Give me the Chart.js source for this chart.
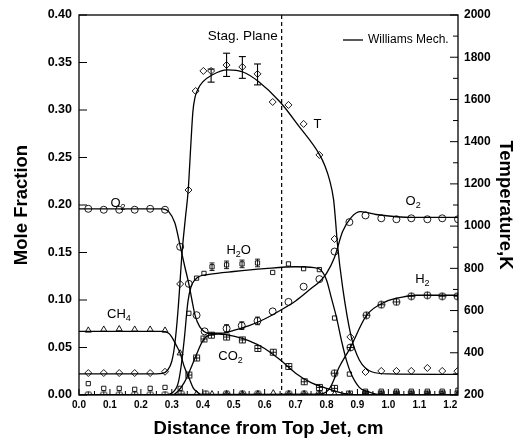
<!DOCTYPE html>
<html>
<head>
<meta charset="utf-8">
<script src="https://cdn.jsdelivr.net/npm/chart.js@4.4.1/dist/chart.umd.min.js"></script>
<style>
  body { margin: 0; background: #fff; }
  #wrap { width: 521px; height: 442px; }
</style>
</head>
<body>
<div id="wrap"><canvas id="chart" width="521" height="442"></canvas></div>
<script>
// ---- data ----
// x ticks (cm) and axis ranges
const xTicks = [0.0, 0.1, 0.2, 0.3, 0.4, 0.5, 0.6, 0.7, 0.8, 0.9, 1.0, 1.1, 1.2];
const moleTicks = [0.00, 0.05, 0.10, 0.15, 0.20, 0.25, 0.30, 0.35, 0.40];
const tempTicks = [200, 400, 600, 800, 1000, 1200, 1400, 1600, 1800, 2000];

// Williams Mech. model curves
const tCurveX = [0, 0.25, 0.27, 0.285, 0.30, 0.31, 0.32, 0.334, 0.344, 0.353, 0.362, 0.368, 0.375, 0.385, 0.40, 0.43, 0.48, 0.53, 0.58, 0.65, 0.71, 0.777, 0.795, 0.81, 0.823, 0.829, 0.835, 0.852, 0.88, 0.906, 0.948, 1.0, 1.225];
const tCurveY = [300, 300, 302, 315, 360, 445, 600, 890, 1040, 1171, 1400, 1540, 1610, 1650, 1683, 1716, 1740, 1730, 1685, 1588, 1475, 1340, 1285, 1218, 1124, 1029, 920, 711, 475, 366, 309, 300, 298];

const o2CurveX = [0, 0.27, 0.29, 0.31, 0.327, 0.342, 0.355, 0.365, 0.375, 0.39, 0.42, 0.46, 0.50, 0.55, 0.60, 0.65, 0.70, 0.75, 0.78, 0.80, 0.826, 0.852, 0.88, 0.91, 0.96, 1.08, 1.225];
const o2CurveY = [0.196, 0.196, 0.193, 0.181, 0.157, 0.135, 0.117, 0.100, 0.084, 0.072, 0.065, 0.065, 0.068, 0.073, 0.080, 0.089, 0.099, 0.112, 0.120, 0.128, 0.145, 0.172, 0.187, 0.193, 0.190, 0.187, 0.187];

const h2oCurveX = [0, 0.28, 0.30, 0.32, 0.33, 0.34, 0.352, 0.362, 0.374, 0.39, 0.42, 0.50, 0.60, 0.70, 0.76, 0.78, 0.80, 0.815, 0.832, 0.85, 0.864, 0.88, 0.906, 0.93, 0.96, 1.0, 1.225];
const h2oCurveY = [0, 0, 0.002, 0.012, 0.030, 0.058, 0.098, 0.114, 0.121, 0.125, 0.127, 0.130, 0.133, 0.135, 0.134, 0.132, 0.121, 0.103, 0.082, 0.055, 0.037, 0.022, 0.008, 0.004, 0.001, 0, 0];

const co2CurveX = [0, 0.30, 0.32, 0.34, 0.36, 0.38, 0.40, 0.42, 0.45, 0.50, 0.55, 0.60, 0.65, 0.70, 0.75, 0.80, 0.85, 0.90, 1.225];
const co2CurveY = [0, 0, 0.004, 0.013, 0.027, 0.043, 0.057, 0.063, 0.064, 0.062, 0.057, 0.049, 0.037, 0.023, 0.013, 0.007, 0.002, 0, 0];

const ch4CurveX = [0, 0.27, 0.29, 0.30, 0.315, 0.327, 0.34, 0.358, 0.37, 0.383, 0.40, 1.225];
const ch4CurveY = [0.067, 0.067, 0.065, 0.061, 0.052, 0.044, 0.030, 0.016, 0.007, 0.003, 0, 0];

const h2CurveX = [0, 0.78, 0.81, 0.842, 0.874, 0.93, 0.99, 1.045, 1.09, 1.225];
const h2CurveY = [0, 0.001, 0.007, 0.030, 0.048, 0.084, 0.098, 0.103, 0.105, 0.105];

// measurements
const tExpX = [0.03, 0.08, 0.13, 0.18, 0.23, 0.278, 0.327, 0.354, 0.377, 0.402, 0.427, 0.477, 0.528, 0.577, 0.626, 0.677, 0.726, 0.777, 0.826, 0.877, 0.926, 0.977, 1.026, 1.074, 1.126, 1.174, 1.223];
const tExpY = [304, 304, 304, 304, 304, 310, 726, 1171, 1640, 1735, 1735, 1763, 1754, 1721, 1588, 1574, 1484, 1337, 939, 475, 309, 314, 314, 314, 328, 314, 313];
const tErrX = [0.427, 0.477, 0.528, 0.577];
const tErrLo = [1682, 1709, 1700, 1669];
const tErrHi = [1744, 1819, 1803, 1768];

const o2ExpX = [0.03, 0.08, 0.13, 0.18, 0.23, 0.278, 0.327, 0.355, 0.38, 0.406, 0.477, 0.526, 0.577, 0.626, 0.677, 0.726, 0.777, 0.826, 0.874, 0.926, 0.977, 1.026, 1.074, 1.126, 1.174, 1.225];
const o2ExpY = [0.196, 0.195, 0.195, 0.195, 0.196, 0.195, 0.156, 0.117, 0.084, 0.067, 0.070, 0.073, 0.078, 0.088, 0.098, 0.114, 0.122, 0.151, 0.182, 0.189, 0.186, 0.185, 0.186, 0.185, 0.186, 0.185];
const o2ErrX = [0.477, 0.526, 0.577];
const o2ErrY = [0.004, 0.004, 0.004];

const h2oExpX = [0.03, 0.08, 0.13, 0.18, 0.23, 0.278, 0.327, 0.355, 0.38, 0.404, 0.43, 0.477, 0.527, 0.577, 0.626, 0.677, 0.726, 0.777, 0.826, 0.874, 0.926, 0.977, 1.026, 1.074, 1.126, 1.174, 1.225];
const h2oExpY = [0.012, 0.007, 0.007, 0.006, 0.007, 0.008, 0.007, 0.086, 0.123, 0.128, 0.135, 0.137, 0.138, 0.139, 0.129, 0.138, 0.133, 0.132, 0.081, 0.022, 0.004, 0.004, 0.004, 0.004, 0.004, 0.004, 0.005];
const h2oErrX = [0.43, 0.477, 0.527, 0.577];
const h2oErrY = [0.004, 0.004, 0.004, 0.004];

const co2ExpX = [0.355, 0.38, 0.404, 0.428, 0.477, 0.528, 0.578, 0.628, 0.678, 0.728, 0.777, 0.826, 0.874, 0.926, 0.977, 1.026, 1.074, 1.126, 1.174, 1.225];
const co2ExpY = [0.021, 0.039, 0.059, 0.063, 0.061, 0.058, 0.049, 0.045, 0.030, 0.014, 0.008, 0.007, 0.001, 0.001, 0.001, 0.001, 0.001, 0.001, 0.001, 0.001];

const ch4ExpX = [0.03, 0.08, 0.13, 0.18, 0.23, 0.278, 0.327, 0.38, 0.43, 0.477, 0.528, 0.578, 0.628, 0.678, 0.728, 0.777, 0.826, 0.874, 0.926, 0.977, 1.026, 1.074, 1.126, 1.174, 1.225];
const ch4ExpY = [0.068, 0.069, 0.0695, 0.069, 0.069, 0.068, 0.044, 0.001, 0.001, 0.001, 0.001, 0.001, 0.002, 0.001, 0.001, 0.001, 0.001, 0.001, 0.001, 0.001, 0.001, 0.001, 0.001, 0.001, 0.001];

const h2ExpX = [0.03, 0.08, 0.13, 0.18, 0.23, 0.278, 0.33, 0.41, 0.477, 0.528, 0.578, 0.678, 0.728, 0.777, 0.826, 0.877, 0.929, 0.977, 1.026, 1.074, 1.126, 1.174, 1.223];
const h2ExpY = [0, 0, 0, 0, 0, 0, 0.001, 0.001, 0.001, 0.001, 0.001, 0.001, 0.001, 0.001, 0.023, 0.050, 0.084, 0.095, 0.098, 0.104, 0.105, 0.104, 0.104];

const stagPlaneX = 0.655;

// ---- helpers ----
const pts = (xs, ys) => xs.map((x, i) => ({ x: x, y: ys[i] }));
const FONT = '"Liberation Sans", Arial, sans-serif';

function glyph(kind) {
    const c = document.createElement('canvas');
    c.width = 9; c.height = 9;
    const g = c.getContext('2d');
    g.strokeStyle = '#000';
    g.lineWidth = 0.9;
    g.beginPath();
    if (kind === 'circlePlus') {
        g.arc(4.5, 4.5, 3.5, 0, Math.PI * 2);
        g.moveTo(4.5, 1); g.lineTo(4.5, 8);
        g.moveTo(1, 4.5); g.lineTo(8, 4.5);
    } else {
        g.rect(1.5, 1.5, 6, 6);
        g.moveTo(4.5, 1.5); g.lineTo(4.5, 7.5);
        g.moveTo(1.5, 4.5); g.lineTo(7.5, 4.5);
    }
    g.stroke();
    return c;
}

function curve(xs, ys, axis) {
    return {
        data: pts(xs, ys), yAxisID: axis, showLine: true, pointRadius: 0,
        borderColor: '#000', borderWidth: 1.3, cubicInterpolationMode: 'monotone', fill: false
    };
}

function markers(xs, ys, axis, style, radius) {
    return {
        data: pts(xs, ys), yAxisID: axis, showLine: false, pointStyle: style,
        pointRadius: radius || 3.5, borderColor: '#000', borderWidth: 0.9,
        backgroundColor: 'rgba(0,0,0,0)'
    };
}

// ---- overlay: frame, inward ticks, error bars, labels, legend ----
const overlay = {
    id: 'overlay',
    afterDatasetsDraw(chart) {
        const { ctx, chartArea: a, scales } = chart;
        const x = scales.x, y = scales.y, y2 = scales.y2;
        ctx.save();
        ctx.strokeStyle = '#000';
        ctx.fillStyle = '#000';

        const seg = (x1, y1, x2, y2_) => { ctx.beginPath(); ctx.moveTo(x1, y1); ctx.lineTo(x2, y2_); ctx.stroke(); };

        // error bars
        ctx.lineWidth = 1.1;
        const errBar = (px, pLo, pHi, cap) => {
            seg(px, pLo, px, pHi);
            seg(px - cap, pLo, px + cap, pLo);
            seg(px - cap, pHi, px + cap, pHi);
        };
        tErrX.forEach((xv, i) => errBar(x.getPixelForValue(xv), y2.getPixelForValue(tErrLo[i]), y2.getPixelForValue(tErrHi[i]), 3.5));
        ctx.lineWidth = 0.9;
        h2oErrX.forEach((xv, i) => {
            const v = h2oExpY[h2oExpX.indexOf(xv)];
            errBar(x.getPixelForValue(xv), y.getPixelForValue(v - h2oErrY[i]), y.getPixelForValue(v + h2oErrY[i]), 2.5);
        });
        o2ErrX.forEach((xv, i) => {
            const v = o2ExpY[o2ExpX.indexOf(xv)];
            errBar(x.getPixelForValue(xv), y.getPixelForValue(v - o2ErrY[i]), y.getPixelForValue(v + o2ErrY[i]), 2.5);
        });

        // stagnation plane
        ctx.lineWidth = 1.2;
        ctx.setLineDash([4, 3]);
        const sp = x.getPixelForValue(stagPlaneX);
        seg(sp, a.top, sp, a.bottom);
        ctx.setLineDash([]);

        // frame
        ctx.lineWidth = 1.3;
        ctx.strokeRect(a.left, a.top, a.right - a.left, a.bottom - a.top);

        // inward ticks
        ctx.lineWidth = 1;
        y.ticks.forEach(t => { const p = y.getPixelForValue(t.value); seg(a.left, p, a.left + 8, p); });
        y2.ticks.forEach(t => {
            const p = y2.getPixelForValue(t.value);
            seg(a.right - 8, p, a.right, p);
            if (t.value + 100 <= y2.max) {
                const q = y2.getPixelForValue(t.value + 100);
                seg(a.right - 5, q, a.right, q);
            }
        });
        x.ticks.forEach(t => {
            const p = x.getPixelForValue(t.value);
            seg(p, a.bottom, p, a.bottom - 6);
            if (t.value + 0.05 <= x.max) {
                const q = x.getPixelForValue(t.value + 0.05);
                seg(q, a.bottom, q, a.bottom - 4);
            }
        });

        // species labels with subscripts
        const label = (parts, xv, yv) => {
            let w = 0;
            parts.forEach(p => { ctx.font = (p[1] ? 9 : 13) + 'px ' + FONT; w += ctx.measureText(p[0]).width; });
            let px = x.getPixelForValue(xv) - w / 2;
            const py = y.getPixelForValue(yv);
            ctx.textBaseline = 'alphabetic';
            ctx.textAlign = 'left';
            parts.forEach(p => {
                ctx.font = (p[1] ? 9 : 13) + 'px ' + FONT;
                ctx.fillText(p[0], px, py + (p[1] ? 8 : 5));
                px += ctx.measureText(p[0]).width;
            });
        };
        label([['O'], ['2', 1]], 0.126, 0.203);
        label([['O'], ['2', 1]], 1.08, 0.205);
        label([['H'], ['2', 1], ['O']], 0.516, 0.154);
        label([['CH'], ['4', 1]], 0.129, 0.086);
        label([['CO'], ['2', 1]], 0.49, 0.042);
        label([['H'], ['2', 1]], 1.11, 0.123);
        label([['T']], 0.771, 0.286);

        ctx.font = '13.5px ' + FONT;
        ctx.textAlign = 'right';
        ctx.textBaseline = 'middle';
        ctx.fillText('Stag. Plane', sp - 4, a.top + 21);

        // legend
        ctx.lineWidth = 1.3;
        seg(a.right - 115, a.top + 25, a.right - 95, a.top + 25);
        ctx.font = '12px ' + FONT;
        ctx.textAlign = 'left';
        ctx.fillText('Williams Mech.', a.right - 90, a.top + 25);
        ctx.restore();
    }
};

new Chart(document.getElementById('chart'), {
    type: 'scatter',
    data: {
        datasets: [
            curve(tCurveX, tCurveY, 'y2'),
            curve(o2CurveX, o2CurveY, 'y'),
            curve(h2oCurveX, h2oCurveY, 'y'),
            curve(co2CurveX, co2CurveY, 'y'),
            curve(ch4CurveX, ch4CurveY, 'y'),
            curve(h2CurveX, h2CurveY, 'y'),
            markers(tExpX, tExpY, 'y2', 'rectRot', 3.5),
            markers(o2ExpX, o2ExpY, 'y', 'circle', 3.5),
            markers(h2oExpX, h2oExpY, 'y', 'rect', 3),
            markers(co2ExpX, co2ExpY, 'y', glyph('rectPlus')),
            markers(ch4ExpX, ch4ExpY, 'y', 'triangle', 3.5),
            markers(h2ExpX, h2ExpY, 'y', glyph('circlePlus'))
        ]
    },
    options: {
        responsive: false,
        animation: false,
        events: [],
        layout: { padding: { top: 15, left: 0, right: 0, bottom: 0 } },
        plugins: { legend: { display: false }, tooltip: { enabled: false } },
        scales: {
            x: {
                type: 'linear', min: 0, max: 1.225,
                afterFit: s => { s.height = 47; },
                grid: { display: false, drawTicks: false },
                border: { display: false },
                afterBuildTicks: s => { s.ticks = xTicks.map(v => ({ value: v })); },
                ticks: {
                    padding: 4, color: '#000', font: { family: FONT, size: 10, weight: 'bold' },
                    callback: v => v.toFixed(1)
                },
                title: {
                    display: true, text: 'Distance from Top Jet, cm', color: '#000',
                    font: { family: FONT, size: 18.5, weight: 'bold' }, padding: { top: 0, bottom: 2 }
                }
            },
            y: {
                type: 'linear', position: 'left', min: 0, max: 0.4,
                afterFit: s => { s.width = 79; },
                grid: { display: false, drawTicks: false },
                border: { display: false },
                afterBuildTicks: s => { s.ticks = moleTicks.map(v => ({ value: v })); },
                ticks: {
                    padding: 7, color: '#000', font: { family: FONT, size: 12.5, weight: 'bold' },
                    callback: v => v.toFixed(2)
                },
                title: {
                    display: true, text: 'Mole Fraction', color: '#000',
                    font: { family: FONT, size: 18.5, weight: 'bold' }, padding: { top: 11, bottom: 0 }
                }
            },
            y2: {
                type: 'linear', position: 'right', min: 200, max: 2000,
                afterFit: s => { s.width = 63; },
                grid: { display: false, drawTicks: false },
                border: { display: false },
                afterBuildTicks: s => { s.ticks = tempTicks.map(v => ({ value: v })); },
                ticks: {
                    padding: 6, color: '#000', font: { family: FONT, size: 12, weight: 'bold' },
                    callback: v => String(v)
                },
                title: {
                    display: true, text: 'Temperature,K', color: '#000',
                    font: { family: FONT, size: 18.5, weight: 'bold' }, padding: { top: 5, bottom: 0 }
                }
            }
        }
    },
    plugins: [overlay]
});
</script>
</body>
</html>
